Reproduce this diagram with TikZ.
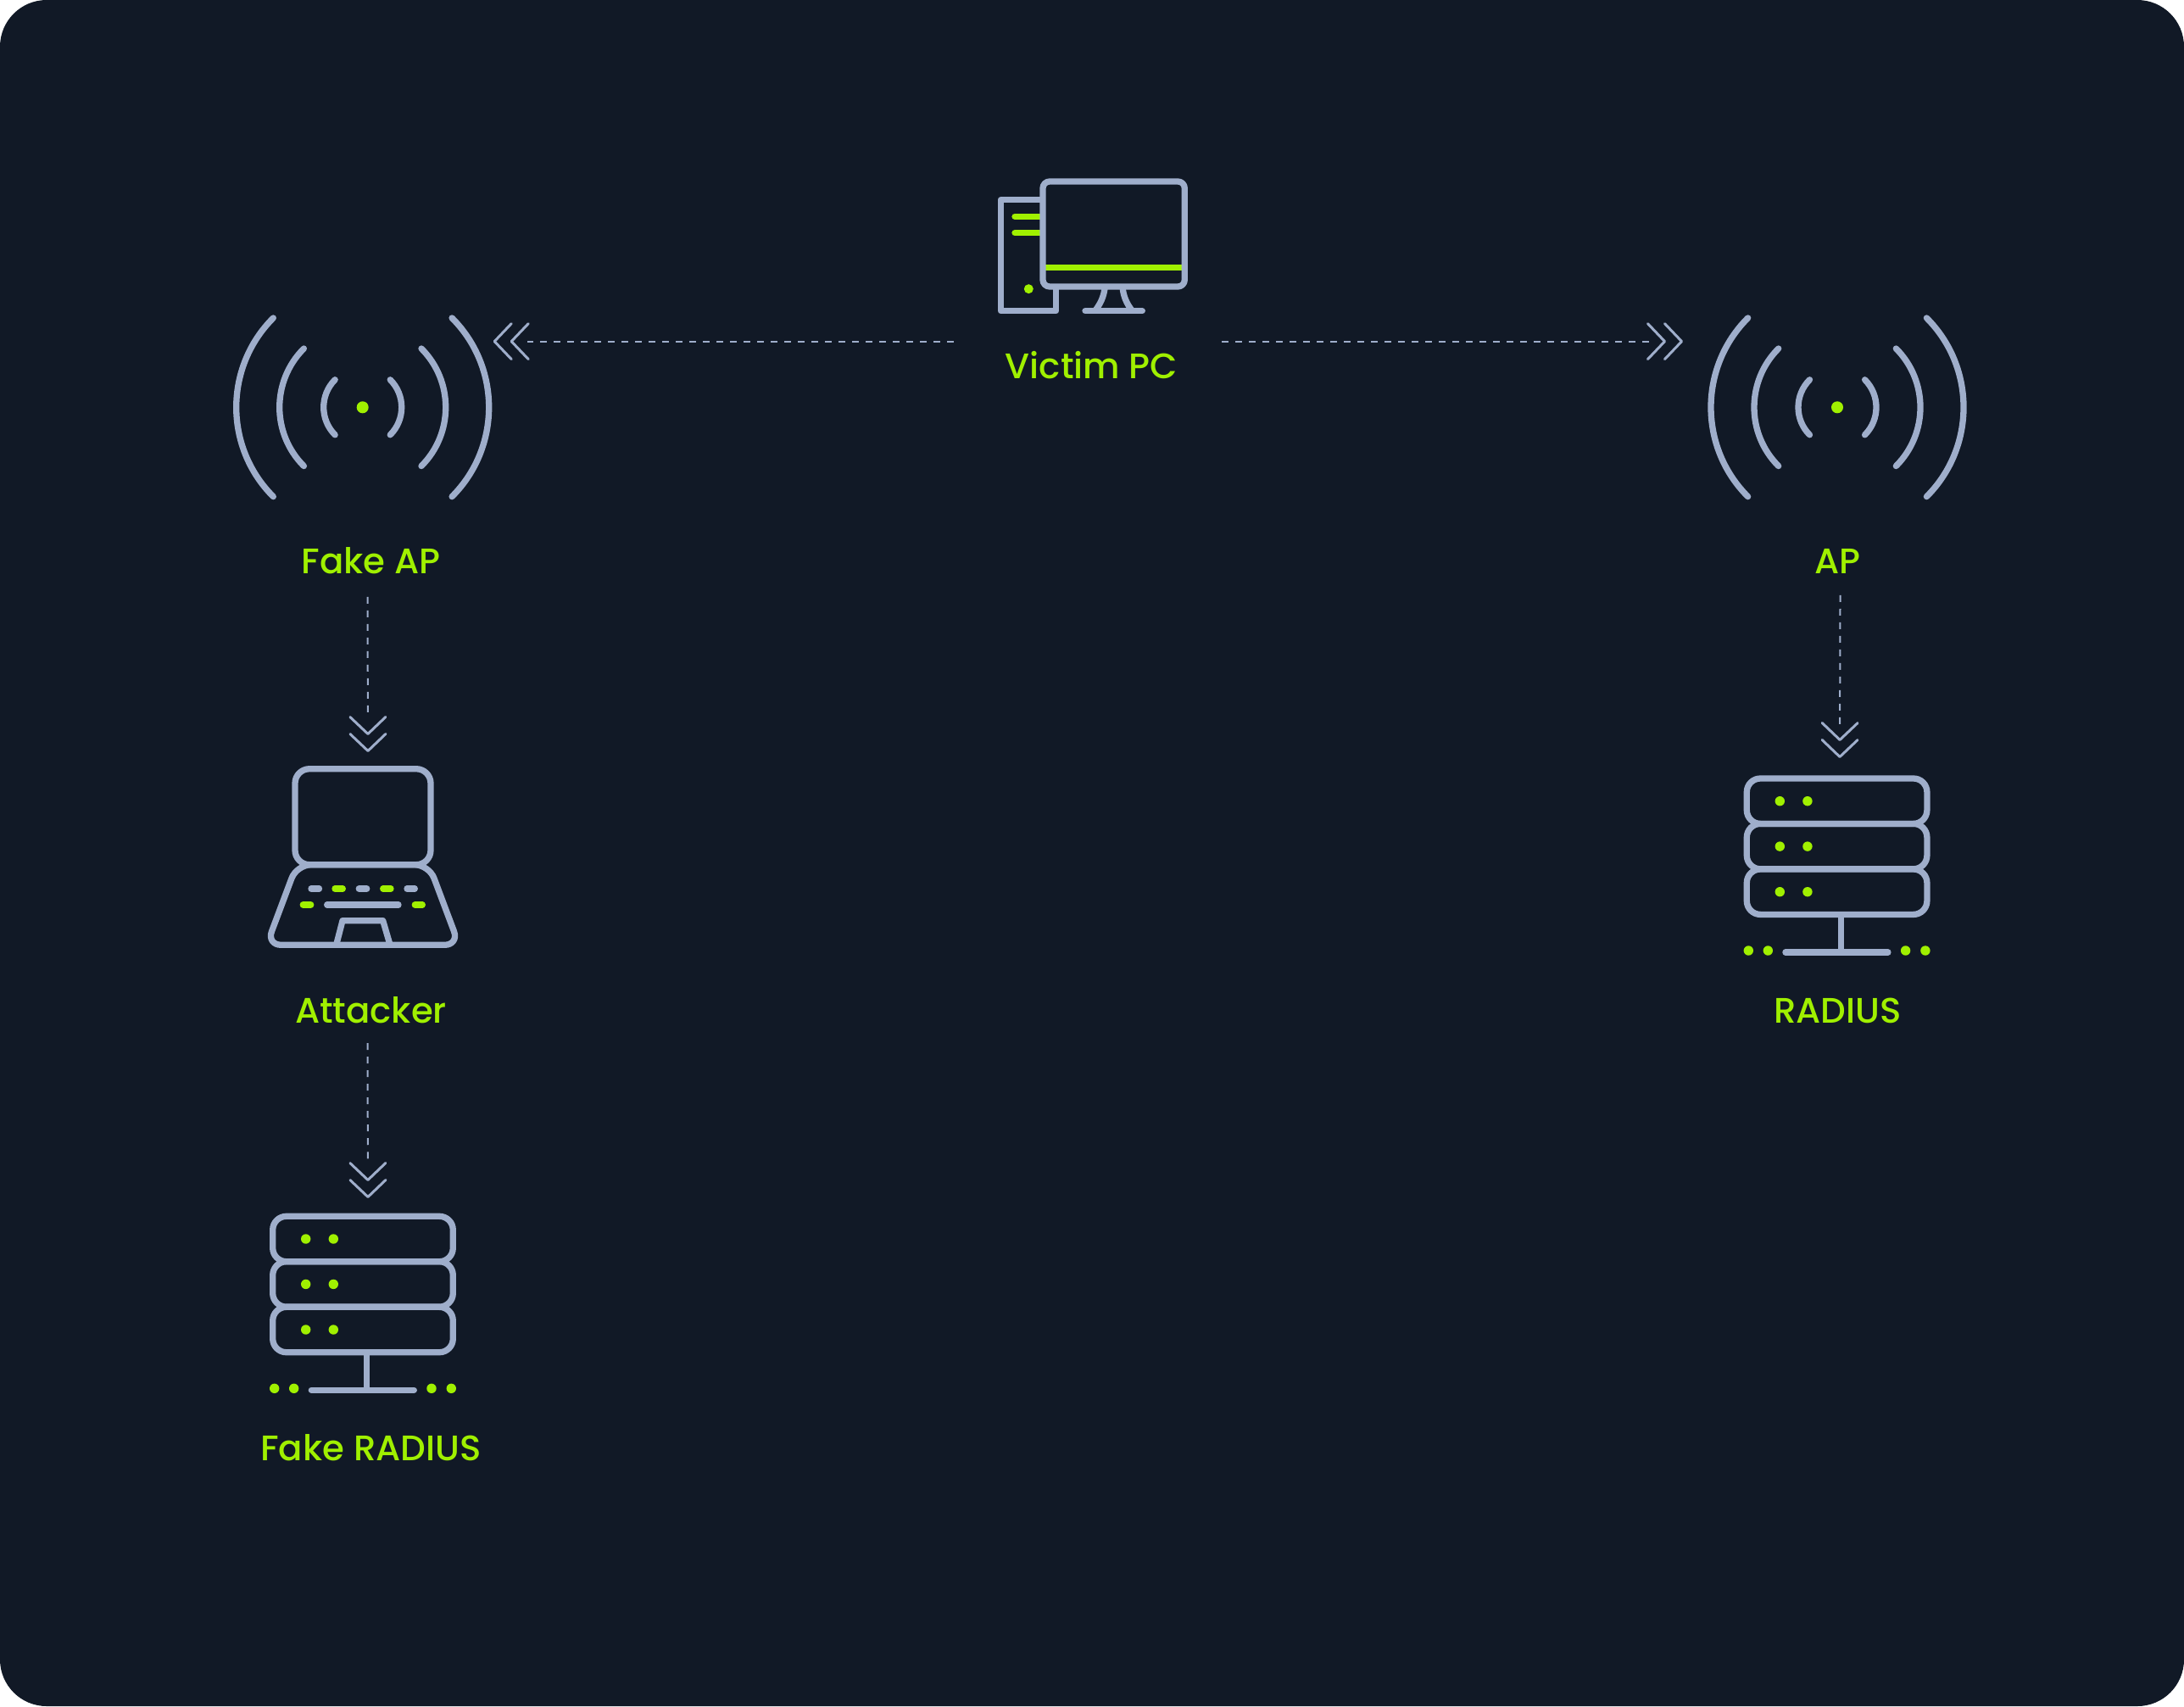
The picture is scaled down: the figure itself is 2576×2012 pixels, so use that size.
\documentclass[tikz,border=0pt]{standalone}
\usepackage{fontspec}
\setmainfont{Poppins}[UprightFont=* Medium]
\usepackage{xcolor}
\usepackage{tikz}
\usetikzlibrary{arrows.meta, positioning}
\definecolor{panelbg}{HTML}{111926}
\definecolor{iconblue}{HTML}{9FAECB}
\definecolor{limegreen}{HTML}{A0F000}

\tikzset{
  outline/.style={draw=iconblue, line width=0.073cm, line join=round},
  wave/.style={outline, line cap=round},
  lime/.style={draw=limegreen, line width=0.073cm, line cap=round},
  dot/.style={fill=limegreen},
  radiopic/.pic={
    \foreach \rr in {46,98,149} {
      \draw[wave] ({-\rr*cos(45)},{-\rr*sin(45)}) arc[start angle=135, end angle=225, radius=\rr*0.01cm];
      \draw[wave] ({\rr*cos(45)},{-\rr*sin(45)}) arc[start angle=45, end angle=-45, radius=\rr*0.01cm];
    }
    \fill[dot] (0,0) circle[radius=0.07cm];
  },
  % origin is the top left corner of the rack
  rackpic/.pic={
    \foreach \yy in {0,53.4,107} {
      \draw[outline, rounded corners=0.16cm] (0,\yy) rectangle (212.6,\yy+53.4);
      \fill[dot] (39,\yy+26.7) circle[radius=0.057cm];
      \fill[dot] (71.6,\yy+26.7) circle[radius=0.057cm];
    }
    \draw[outline] (111,160.4) -- (111,205);
    \draw[wave] (45.6,205) -- (166.6,205);
    \foreach \xx in {2,25,187.3,210.6}
      \fill[dot] (\xx,203) circle[radius=0.057cm];
  },
}

\begin{document}
\begin{tikzpicture}[
  x=0.01cm, y=-0.01cm,
  lbl/.style={font=\fontsize{11.9}{15}\selectfont, text=limegreen, anchor=base,
              inner sep=0.25cm, text depth=0pt},
  iconbox/.style={inner sep=0pt, outer sep=0pt},
  % the line stops short of the chevrons, the preaction only puts the tips
  link/.style={draw=iconblue, line width=0.02cm, dash pattern=on 0.08cm off 0.08cm, shorten >=0.4cm,
    preaction={draw=iconblue, dash pattern=on 0pt off 30cm, shorten >=0pt,
      -{Straight Barb[length=0.2cm, width=0.42cm, line width=0.03cm, round, sep=-0.03cm]
        Straight Barb[length=0.2cm, width=0.42cm, line width=0.03cm, round]}}},
]
  \useasboundingbox (0,0) rectangle (2576,2012);
  \fill[white] (0,0) rectangle (2576,2012);
  \fill[panelbg, rounded corners=0.55cm] (0,0) rectangle (2576,2012);

  % labels
  \node[lbl] (victim) at (1287.5,446) {Victim PC};
  \node[lbl, below left=2.3cm and 8.495cm of victim.base, anchor=base] (fakeap) {Fake AP};
  \node[lbl, below right=2.3cm and 8.795cm of victim.base, anchor=base] (ap) {AP};
  \node[lbl, below=5.3cm of fakeap.base, anchor=base] (attacker) {Attacker};
  \node[lbl, below=5.16cm of attacker.base, anchor=base] (fakeradius) {Fake RADIUS};
  \node[lbl, below=5.3cm of ap.base, anchor=base] (radius) {RADIUS};

  % room around the icons
  \node[iconbox, anchor=south, minimum width=3.16cm, minimum height=2cm] (victimicon) at (1283,402.6) {};
  \node[iconbox, anchor=north east, minimum width=3cm, minimum height=1.6cm] (fakeapicon) at (581.7,402.6) {};
  \node[iconbox, anchor=north west, minimum width=3.6cm, minimum height=1.6cm] (apicon) at (1985,402.6) {};
  \node[iconbox, anchor=north, minimum width=3.4cm, minimum height=2.4cm] (attackericon) at (434,887) {};
  \node[iconbox, anchor=north, minimum width=3.4cm, minimum height=2.4cm] (fakeradiusicon) at (434,1413) {};
  \node[iconbox, anchor=north, minimum width=3.4cm, minimum height=2.4cm] (radiusicon) at (2170,894) {};

  \pic at (427.7,480.3) {radiopic};
  \pic at (2167,480.3) {radiopic};
  \pic at (321.7,1434.3) {rackpic};
  \pic at (2060.3,918) {rackpic};

  % desktop
  \draw[outline, miter limit=2] (1230,235.7) -- (1180.3,235.7) -- (1180.3,366.7) -- (1245.7,366.7) -- (1245.7,338);
  \draw[lime] (1197,255.3) -- (1228,255.3);
  \draw[lime] (1197,274.7) -- (1228,274.7);
  \draw[lime, line cap=butt] (1233,315.7) -- (1394,315.7);
  \fill[dot] (1213.3,340.7) circle[radius=0.055cm];
  \draw[outline, rounded corners=0.08cm] (1230,214) rectangle (1397.3,338);
  \draw[outline] (1303.3,338) .. controls (1302,350) and (1298,358) .. (1292,366);
  \draw[outline] (1324,338) .. controls (1325,350) and (1329,358) .. (1335,366);
  \draw[wave] (1280,366.7) -- (1347.3,366.7);

  % laptop
  \draw[outline, rounded corners=0.17cm] (348,906.7) rectangle (508,1019.7);
  \draw[outline, rounded corners=0.17cm] (428,1019.7) -- (350,1019.7) -- (314.5,1114.3) -- (541.5,1114.3) -- (506,1019.7) -- cycle;
  \draw[outline] (396.7,1114) -- (404,1085.7) -- (451.7,1085.7) -- (460,1114);
  \foreach \xa/\xb/\yy/\cc in {367/376.5/1048/iconblue, 395/404.3/1048/limegreen, 423.3/432.7/1048/iconblue,
      451.7/461/1048/limegreen, 480/489.3/1048/iconblue, 357.3/366.7/1067/limegreen,
      385.7/470/1067/iconblue, 489.3/498.3/1067/limegreen}
    \draw[lime, draw=\cc] (\xa,\yy) -- (\xb,\yy);

  % connectors
  \draw[link] (victimicon.south west) -- (fakeapicon.north east);
  \draw[link] (victimicon.south east) -- (apicon.north west);
  \draw[link] ([shift={(-0.04cm,-0.02cm)}]fakeap.south) -- (attackericon.north);
  \draw[link] ([shift={(-0.04cm,0.02cm)}]attacker.south) -- (fakeradiusicon.north);
  \draw[link] ([xshift=0.03cm]ap.south) -- (radiusicon.north);
\end{tikzpicture}
\end{document}
